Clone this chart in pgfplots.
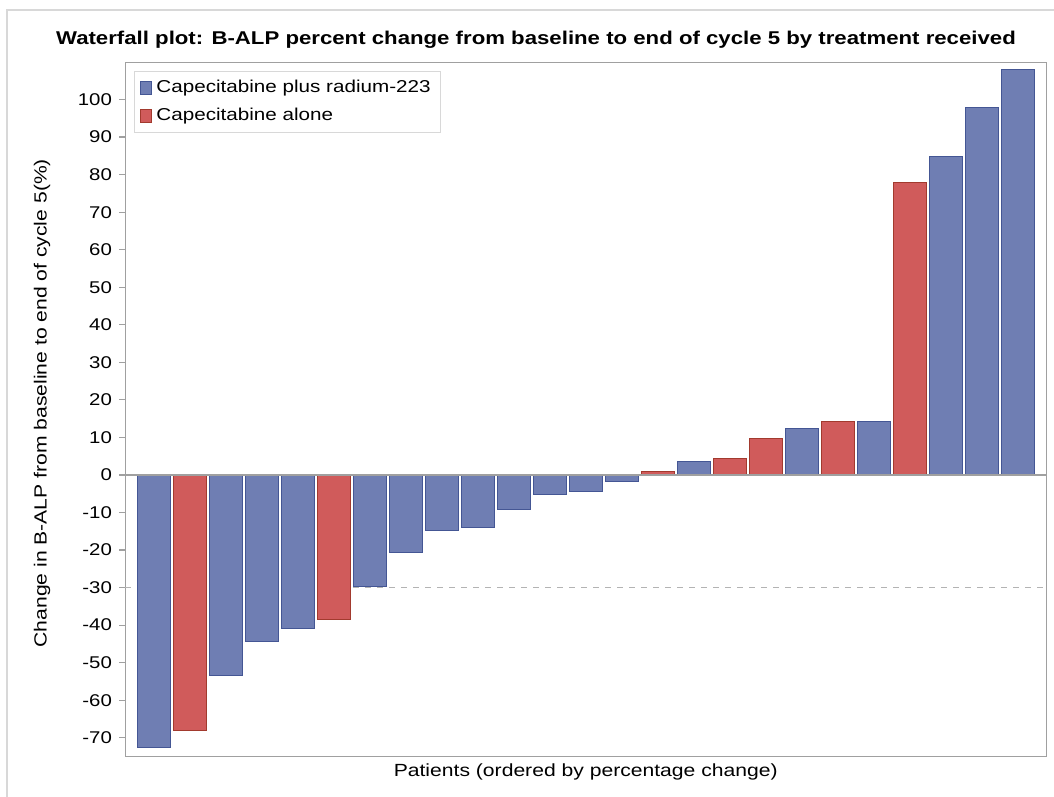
\documentclass[border=0pt]{standalone}
\usepackage{pgfplots}
\pgfplotsset{compat=1.18}
\usepackage{fontspec}
\setmainfont[FakeStretch=1.2]{Liberation Sans}
\definecolor{bluefill}{HTML}{6F7EB3}
\definecolor{blueline}{HTML}{445694}
\definecolor{redfill}{HTML}{D05B5B}
\definecolor{redline}{HTML}{A23A2E}
\definecolor{framegray}{HTML}{A0A0A0}
\definecolor{bordergray}{HTML}{D8D8D8}
\begin{document}
\begin{tikzpicture}[x=1pt,y=1pt]
\useasboundingbox (0,0) rectangle (527,398.5);
\draw[bordergray, line width=1pt] (3.5,0) -- (3.5,393.5) -- (527,393.5);
\node[font=\bfseries\fontsize{9.25}{10}\selectfont] at (268,378.5) {Waterfall plot: B-ALP percent change from baseline to end of cycle 5 by treatment received};
\begin{axis}[
  at={(62.5pt,20.25pt)}, anchor=south west,
  scale only axis, width=460.75pt, height=347.25pt,
  xmin=0.2, xmax=25.8, ymin=-75, ymax=110,
  xtick=\empty,
  ytick={-70,-60,...,100},
  axis line style={framegray},
  tick style={framegray, line width=0.6pt},
  tick align=outside, major tick length=3pt,
  ytick pos=left,
  tick label style={font=\fontsize{8.5}{9}\selectfont, text=black},
  /pgf/number format/assume math mode=true,
  ylabel={Change in B-ALP from baseline to end of cycle 5(\%)},
  xlabel={Patients (ordered by percentage change)},
  label style={font=\fontsize{8.8}{9}\selectfont},
  xlabel style={yshift=3pt},
  ylabel style={yshift=7pt, xshift=3pt},
  legend style={at={(0.0098,0.987)}, anchor=north west, draw=bordergray, font=\fontsize{8.6}{10}\selectfont, inner xsep=3pt, inner ysep=2.5pt, row sep=2pt, cells={anchor=west}},
  legend cell align=left,
  legend image code/.code={\draw[#1, line width=0.5pt] (1pt,-3.2pt) rectangle (6.5pt,3.2pt);},
]
\addplot[forget plot, framegray!80, dash pattern=on 3pt off 3pt, line width=0.9pt] coordinates {(0.2,-30) (25.8,-30)};
\addplot[ybar, bar width=0.91, bar shift=0pt, fill=bluefill, draw=blueline, line width=0.5pt] coordinates {
(1,-72.6) (3,-53.3) (4,-44.4) (5,-40.9) (7,-29.8) (8,-20.6) (9,-14.8) (10,-14.0) (11,-9.1) (12,-5.2) (13,-4.4) (14,-1.7) (16,3.6) (19,12.3) (21,14.3) (23,84.8) (24,98.0) (25,107.9)};
\addlegendentry{Capecitabine plus radium-223}
\addplot[ybar, bar width=0.91, bar shift=0pt, fill=redfill, draw=redline, line width=0.5pt] coordinates {
(2,-68.1) (6,-38.4) (15,0.8) (17,4.5) (18,9.7) (20,14.3) (22,77.9)};
\addlegendentry{Capecitabine alone}
\addplot[forget plot, framegray, line width=0.6pt] coordinates {(0.2,0) (25.8,0)};
\end{axis}
\end{tikzpicture}
\end{document}
